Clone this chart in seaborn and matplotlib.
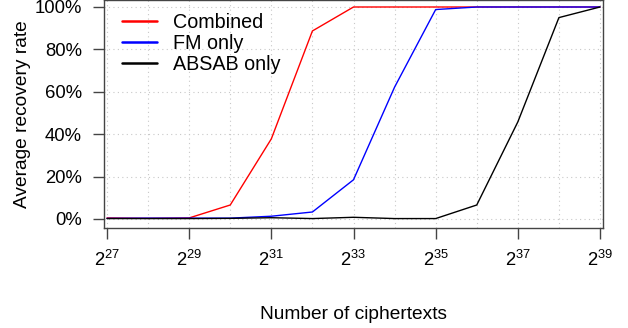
import numpy as np
import pandas as pd
import matplotlib
matplotlib.use("Agg")
import matplotlib.pyplot as plt
import seaborn as sns
from matplotlib.ticker import FixedLocator, FuncFormatter, NullLocator

exponents = [27, 28, 29, 30, 31, 32, 33, 34, 35, 36, 37, 38, 39]
combined = [0.005, 0.003, 0.005, 0.066, 0.378, 0.887, 1.0, 1.0, 1.0, 1.0, 1.0, 1.0, 1.0]
fm_only = [0.003, 0.004, 0.004, 0.004, 0.013, 0.033, 0.185, 0.622, 0.988, 1.0, 1.0, 1.0, 1.0]
absab_only = [0.002, 0.002, 0.002, 0.003, 0.006, 0.002, 0.008, 0.002, 0.002, 0.066, 0.458, 0.95, 1.0]
series_names = ["Combined", "FM only", "ABSAB only"]
series_colors = ["#ff0000", "#0000ff", "#000000"]
x_ticks = [27, 29, 31, 33, 35, 37, 39]
y_ticks = [0, 0.2, 0.4, 0.6, 0.8, 1.0]

rows = []
for name, vals in zip(series_names, [combined, fm_only, absab_only]):
    for e, v in zip(exponents, vals):
        rows.append({"n": 2.0 ** e, "rate": v, "series": name})
df = pd.DataFrame(rows)

sns.set_theme(style="white")
plt.rcParams["font.family"] = ["Liberation Sans", "DejaVu Sans"]
plt.rcParams["mathtext.fontset"] = "custom"
plt.rcParams["mathtext.rm"] = "Liberation Sans"
plt.rcParams["mathtext.it"] = "Liberation Sans"
plt.rcParams["text.color"] = "black"
plt.rcParams["axes.labelcolor"] = "black"
plt.rcParams["xtick.color"] = "black"
plt.rcParams["ytick.color"] = "black"

fig = plt.figure(figsize=(6.28, 3.28), dpi=100)
ax = fig.add_axes([104 / 628, 1 - 228 / 328, (603 - 104) / 628, 228 / 328])

sns.lineplot(data=df, x="n", y="rate", hue="series", hue_order=series_names,
             palette=series_colors, linewidth=1.0, ax=ax, legend=True)

ax.set_xscale("log", base=2)
ax.set_xlim(2 ** 26.927, 2 ** 39.073)
ax.set_ylim(-0.0425, 1.033)

ax.xaxis.set_major_locator(FixedLocator([2.0 ** e for e in x_ticks]))
ax.xaxis.set_minor_locator(NullLocator())
ax.xaxis.set_major_formatter(FuncFormatter(lambda v, p: r"$2^{%d}$" % round(np.log2(v))))
ax.yaxis.set_major_locator(FixedLocator(y_ticks))
ax.yaxis.set_major_formatter(FuncFormatter(lambda v, p: "%d%%" % round(v * 100)))

# grid
for e in exponents:
    ax.axvline(2.0 ** e, color="#c8c8c8", lw=0.8, ls=(0, (1, 3)), zorder=0)
for yv in y_ticks:
    ax.axhline(yv, color="#c8c8c8", lw=0.8, ls=(0, (1, 3)), zorder=0)

for s in ax.spines.values():
    s.set_color("#444444")
    s.set_linewidth(1.0)
    s.set_visible(True)

ax.tick_params(axis="both", direction="out", length=7.8, width=1.0, color="#444444",
               labelsize=13.3, labelcolor="black", bottom=True, left=True)
ax.tick_params(axis="x", pad=8)
ax.tick_params(axis="y", pad=8)

ax.set_xlabel("Number of ciphertexts", fontsize=13.8, labelpad=26, color="black")
ax.set_ylabel("Average recovery rate", fontsize=13.8, labelpad=3, color="black")

leg = ax.legend(loc="upper left", frameon=False, fontsize=14.2, handlelength=1.8,
                handletextpad=0.8, labelspacing=0.1, borderaxespad=0.0,
                bbox_to_anchor=(0.02, 0.976))
for h in leg.get_lines():
    h.set_linewidth(1.8)
for t in leg.get_texts():
    t.set_color("black")

fig.savefig("out.png", dpi=100)
